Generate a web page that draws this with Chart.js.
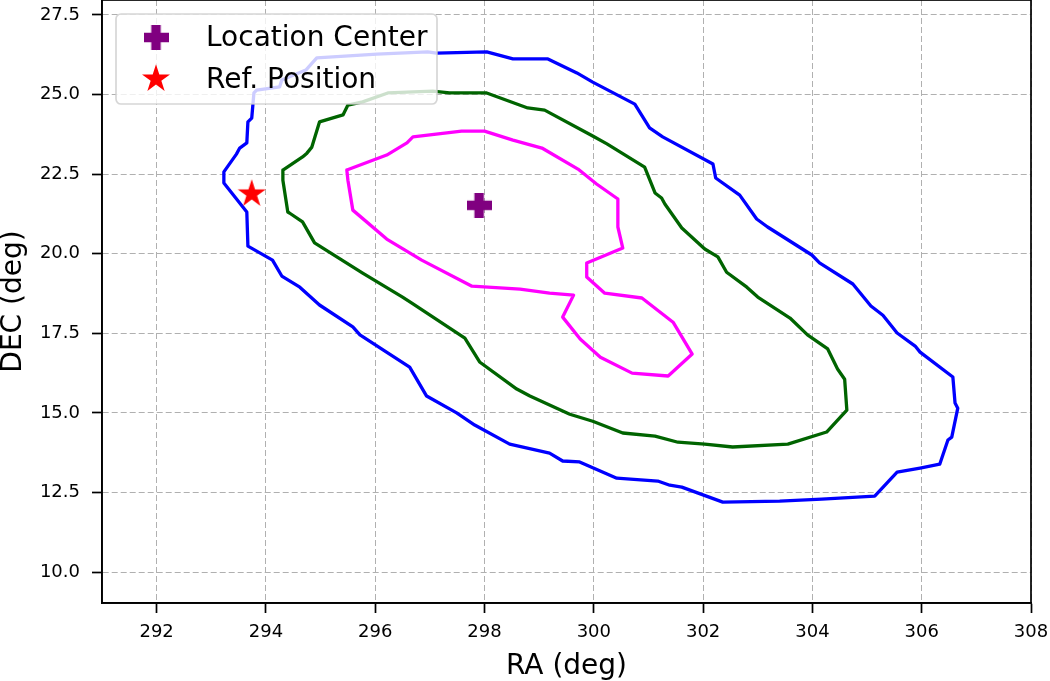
<!DOCTYPE html>
<html>
<head>
<meta charset="utf-8">
<script src="https://cdn.jsdelivr.net/npm/chart.js@4.4.1/dist/chart.umd.min.js"></script>
<style>
  html, body { margin: 0; padding: 0; background: #fff; }
</style>
</head>
<body>
<canvas id="chart" width="1050" height="681"></canvas>
<script>
// --- data ---
const raTicks = [292, 294, 296, 298, 300, 302, 304, 306, 308];
const decTicks = [10.0, 12.5, 15.0, 17.5, 20.0, 22.5, 25.0, 27.5];

const centerRA = [297.90];
const centerDEC = [21.52];
const refRA = [293.74];
const refDEC = [21.88];

// outer contour (blue)
const outerRA = [293.23, 293.23, 293.46, 293.52, 293.65, 293.67, 293.74, 293.78, 293.83, 294.25,
  294.29, 294.73, 294.93, 296.03, 296.96, 297.12, 298.04, 298.52, 299.16, 299.69,
  299.98, 300.75, 301.02, 301.26, 302.18, 302.23, 302.67, 302.98, 303.18, 303.99,
  304.13, 304.74, 305.07, 305.29, 305.55, 305.88, 305.97, 306.57, 306.61, 306.66,
  306.55, 306.48, 306.33, 305.97, 305.55, 305.14, 304.17, 303.40, 302.36, 301.61,
  301.39, 301.17, 300.42, 299.74, 299.43, 299.19, 298.46, 297.82, 297.49, 296.94,
  296.63, 295.72, 295.59, 294.98, 294.62, 294.29, 294.12, 293.67, 293.65];
const outerDEC = [22.22, 22.57, 23.13, 23.32, 23.48, 24.14, 24.26, 25.05, 25.14, 25.24,
  25.46, 25.77, 26.15, 26.27, 26.34, 26.30, 26.34, 26.12, 26.12, 25.68,
  25.39, 24.70, 23.95, 23.67, 22.82, 22.38, 21.84, 21.09, 20.84, 19.96,
  19.71, 19.05, 18.36, 18.07, 17.51, 17.10, 16.91, 16.13, 15.31, 15.15,
  14.24, 14.15, 13.39, 13.27, 13.14, 12.39, 12.29, 12.23, 12.20, 12.67,
  12.73, 12.86, 12.95, 13.46, 13.49, 13.74, 14.02, 14.62, 15.00, 15.53,
  16.44, 17.45, 17.70, 18.39, 18.95, 19.30, 19.80, 20.24, 21.31];

// middle contour (green)
const midRA = [294.31, 294.31, 294.40, 294.43, 294.67, 294.89, 295.77, 296.50, 296.67, 297.64,
  297.91, 298.59, 298.83, 299.56, 299.98, 300.53, 301.12, 301.54, 302.03, 302.54,
  303.55, 304.26, 304.63, 304.59, 304.46, 304.28, 303.91, 303.59, 303.00, 302.80,
  302.43, 302.27, 302.03, 301.61, 301.30, 301.24, 301.12, 300.93, 300.24, 299.98,
  299.10, 298.79, 298.04, 297.36, 297.05, 296.23, 295.77, 295.50, 295.41, 294.98,
  294.84, 294.75, 294.67];
const midDEC = [22.63, 22.31, 21.31, 21.28, 21.00, 20.34, 19.39, 18.64, 18.45, 17.35,
  16.60, 15.75, 15.53, 14.96, 14.74, 14.37, 14.27, 14.08, 14.02, 13.93,
  14.02, 14.40, 15.09, 16.06, 16.38, 17.01, 17.45, 17.98, 18.64, 18.95,
  19.42, 19.90, 20.15, 20.81, 21.56, 21.75, 21.91, 22.72, 23.45, 23.70,
  24.51, 24.58, 25.05, 25.05, 25.11, 25.05, 24.77, 24.67, 24.36, 24.14,
  23.35, 23.16, 23.04];

// inner contour (magenta)
const innerRA = [295.48, 296.21, 296.58, 296.69, 297.58, 298.00, 298.52, 299.05, 299.71, 300.05,
  300.44, 300.44, 300.53, 299.87, 299.87, 300.20, 300.88, 301.45, 301.80, 301.36,
  300.70, 300.12, 299.75, 299.43, 299.63, 299.19, 298.65, 297.77, 296.85, 296.21,
  295.59, 295.50];
const innerDEC = [22.63, 23.10, 23.48, 23.67, 23.85, 23.85, 23.57, 23.32, 22.66, 22.19,
  21.72, 20.84, 20.18, 19.71, 19.27, 18.76, 18.61, 17.85, 16.85, 16.16,
  16.25, 16.75, 17.32, 18.01, 18.70, 18.76, 18.89, 18.98, 19.80, 20.46,
  21.37, 22.31];

const FONT = 'DejaVu Sans';

function toPoints(ra, dec, closed) {
  const pts = ra.map((x, i) => ({ x: x, y: dec[i] }));
  if (closed) pts.push({ x: ra[0], y: dec[0] });
  return pts;
}

// filled plus ('P') marker
function plusMarker(size, color) {
  const c = document.createElement('canvas');
  c.width = c.height = size;
  const g = c.getContext('2d');
  const t = size * 0.38, o = (size - t) / 2;
  g.fillStyle = color;
  g.fillRect(o, 0, t, size);
  g.fillRect(0, o, size, t);
  return c;
}

// filled five point star
function starMarker(R, color) {
  const c = document.createElement('canvas');
  const s = Math.ceil(R * 2 + 2);
  c.width = c.height = s;
  const g = c.getContext('2d');
  const r = R * 0.382;
  g.beginPath();
  for (let i = 0; i < 10; i++) {
    const a = -Math.PI / 2 + i * Math.PI / 5;
    const rr = i % 2 ? r : R;
    g.lineTo(s / 2 + rr * Math.cos(a), s / 2 + rr * Math.sin(a));
  }
  g.closePath();
  g.fillStyle = color;
  g.fill();
  return c;
}

const plusImg = plusMarker(25, '#800080');
const starImg = starMarker(14.7, '#ff0000');

function contour(label, ra, dec, color) {
  return {
    label: label,
    data: toPoints(ra, dec, true),
    showLine: true,
    borderColor: color,
    borderWidth: 3.3,
    borderJoinStyle: 'round',
    borderCapStyle: 'round',
    pointRadius: 0,
    tension: 0
  };
}

// drop the extra room chart.js reserves for the outer tick labels
function noPad(s) {
  s.paddingTop = 0; s.paddingBottom = 0; s.paddingLeft = 0; s.paddingRight = 0;
}

// top + right spines
const frame = {
  id: 'frame',
  afterDatasetsDraw(chart) {
    const { ctx, chartArea: a } = chart;
    ctx.save();
    ctx.strokeStyle = '#000';
    ctx.lineWidth = 1.7;
    ctx.strokeRect(a.left, a.top, a.right - a.left, a.bottom - a.top);
    ctx.restore();
  }
};

// legend box drawn inside the plot, upper left
const legendBox = {
  id: 'legendBox',
  afterDraw(chart) {
    const { ctx, chartArea: a } = chart;
    const x = a.left + 14, y = a.top + 14, w = 321, h = 90;
    ctx.save();
    ctx.beginPath();
    ctx.roundRect(x, y, w, h, 5);
    ctx.fillStyle = 'rgba(255,255,255,0.8)';
    ctx.fill();
    ctx.lineWidth = 1.7;
    ctx.strokeStyle = 'rgba(204,204,204,0.8)';
    ctx.stroke();
    const items = chart.data.datasets.filter(d => d.inLegend);
    items.forEach((d, i) => {
      const cy = y + 23.5 + i * 41.5;
      const img = d.pointStyle;
      ctx.drawImage(img, x + 40 - img.width / 2, cy - img.height / 2);
      ctx.fillStyle = '#000';
      ctx.font = '28px "' + FONT + '"';
      ctx.textBaseline = 'middle';
      ctx.fillText(d.label, x + 90, cy + 1.5);
    });
    ctx.restore();
  }
};

new Chart(document.getElementById('chart'), {
  type: 'scatter',
  data: {
    datasets: [
      { label: 'Location Center', inLegend: true, data: toPoints(centerRA, centerDEC, false),
        pointStyle: plusImg, pointRadius: 12, showLine: false },
      { label: 'Ref. Position', inLegend: true, data: toPoints(refRA, refDEC, false),
        pointStyle: starImg, pointRadius: 12, showLine: false },
      contour('inner', innerRA, innerDEC, '#ff00ff'),
      contour('middle', midRA, midDEC, '#006400'),
      contour('outer', outerRA, outerDEC, '#0000ff')
    ]
  },
  options: {
    responsive: false,
    animation: false,
    layout: { autoPadding: false, padding: { top: 0, right: 19, bottom: 0, left: 0 } },
    plugins: { legend: { display: false }, tooltip: { enabled: false } },
    scales: {
      x: {
        type: 'linear', min: 291, max: 308,
        afterBuildTicks: s => { s.ticks = raTicks.map(v => ({ value: v })); },
        afterFit: s => { s.height = 78; noPad(s); },
        ticks: { autoSkip: false, maxRotation: 0, padding: 9, color: '#000',
          font: { family: FONT, size: 18 }, callback: v => String(v) },
        grid: { color: '#b0b0b0', lineWidth: 1, tickColor: '#000', tickLength: 10,
          tickWidth: 1.7, tickBorderDash: [] },
        border: { display: true, color: '#000', width: 1.7, dash: [6, 3] },
        title: { display: true, text: 'RA (deg)', color: '#000', padding: 0,
          font: { family: FONT, size: 28, lineHeight: 1 } }
      },
      y: {
        type: 'linear', min: 9.03, max: 27.97,
        afterBuildTicks: s => { s.ticks = decTicks.map(v => ({ value: v })); },
        afterFit: s => { s.width = 102; noPad(s); },
        ticks: { autoSkip: false, padding: 12, color: '#000',
          font: { family: FONT, size: 18 }, callback: v => Number(v).toFixed(1) },
        grid: { color: '#b0b0b0', lineWidth: 1, tickColor: '#000', tickLength: 10,
          tickWidth: 1.7, tickBorderDash: [] },
        border: { display: true, color: '#000', width: 1.7, dash: [6, 3] },
        title: { display: true, text: 'DEC (deg)', color: '#000', padding: 0,
          font: { family: FONT, size: 28, lineHeight: 1 } }
      }
    }
  },
  plugins: [frame, legendBox]
});
</script>
</body>
</html>
